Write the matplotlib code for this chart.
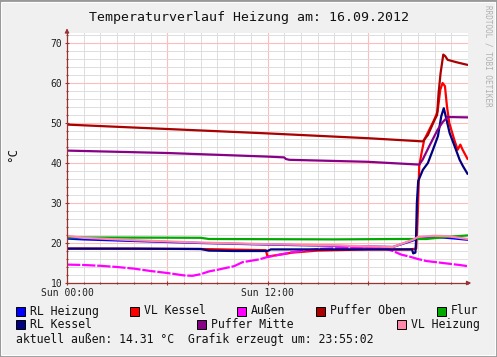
import matplotlib
matplotlib.use("Agg")
import matplotlib.pyplot as plt
from matplotlib.patches import Rectangle

# Stunden seit Sun 00:00
rl_heizung_h = [0, 1, 4, 8, 12, 16, 19.5, 20.7, 21.0, 22.0, 23, 24]
rl_heizung = [21.1, 20.9, 20.5, 20.0, 19.6, 19.3, 19.0, 20.6, 21.3, 21.5, 21.2, 20.8]

vl_kessel_h = [0, 8, 11.9, 12.0, 13.5, 15, 18, 20.5, 20.9, 21.0, 21.08, 21.22, 21.38, 21.98,
               22.18, 22.34, 22.48, 22.62, 22.74, 22.88, 23.18, 23.38, 23.54, 23.68, 24]
vl_kessel = [18.6, 18.5, 18.2, 16.6, 17.6, 18.1, 18.4, 18.4, 18.6, 28.0, 39.2, 42.5, 45.8, 50.8,
             52.9, 58.3, 60.0, 59.2, 54.2, 50.0, 45.8, 43.3, 44.6, 43.3, 40.8]

aussen_h = [0, 1, 2, 3, 4, 5, 6, 7, 7.5, 8, 8.5, 9, 10, 10.5, 11.5, 12, 13.5, 15, 16, 18, 19,
            19.5, 20, 20.5, 21, 21.5, 22.5, 23.5, 24]
aussen = [14.6, 14.5, 14.3, 14.0, 13.6, 13.0, 12.5, 11.9, 11.8, 12.2, 12.9, 13.3, 14.2, 15.2,
          15.9, 16.5, 17.7, 18.5, 18.7, 18.8, 18.7, 18.0, 17.1, 16.6, 16.0, 15.5, 15.0, 14.5, 14.2]

puffer_oben_h = [0, 6, 12, 18, 21.3, 21.6, 22.0, 22.15, 22.24, 22.36, 22.52, 22.64, 22.78, 23.3, 24]
puffer_oben = [49.6, 48.5, 47.4, 46.2, 45.4, 47.0, 50.8, 52.0, 57.5, 62.5, 67.1, 66.7, 65.8,
               65.2, 64.5]

flur_h = [0, 8, 8.5, 16, 20, 21.5, 22.2, 23, 24]
flur = [21.4, 21.3, 21.0, 20.9, 21.0, 21.0, 21.3, 21.6, 21.9]

rl_kessel_h = [0, 4, 8, 8.5, 10, 12, 12.2, 16, 20, 20.65, 20.72, 20.85, 20.88, 20.94, 21.02,
               21.3, 21.6, 21.9, 22.2, 22.4, 22.55, 22.65, 22.9, 23.2, 23.5, 23.7, 24]
rl_kessel = [18.6, 18.6, 18.5, 18.1, 18.0, 18.0, 18.4, 18.4, 18.4, 18.4, 17.4, 17.6, 19.6, 30.0,
             35.5, 38.3, 40.0, 43.3, 46.7, 51.7, 53.7, 52.0, 47.5, 44.2, 40.8, 39.2, 37.1]

puffer_mitte_h = [0, 6, 10, 12, 13, 13.1, 13.3, 18, 21.08, 21.28, 21.68, 22.18, 22.48, 22.78, 24]
puffer_mitte = [43.1, 42.5, 41.9, 41.6, 41.4, 41.0, 40.8, 40.3, 39.6, 40.8, 44.2, 48.3, 50.2,
                51.5, 51.4]

vl_heizung_h = [0, 1, 4, 8, 12, 16, 19.5, 20.7, 21.0, 22.0, 22.8, 24]
vl_heizung = [21.8, 21.3, 20.7, 20.1, 19.7, 19.4, 19.0, 20.8, 21.5, 21.8, 21.7, 21.0]

series = [
    ("RL Heizung", rl_heizung_h, rl_heizung, "#0000ff"),
    ("VL Kessel", vl_kessel_h, vl_kessel, "#ff0000"),
    ("Außen", aussen_h, aussen, "#ff00ff"),
    ("Puffer Oben", puffer_oben_h, puffer_oben, "#aa0000"),
    ("Flur", flur_h, flur, "#00aa00"),
    ("RL Kessel", rl_kessel_h, rl_kessel, "#000080"),
    ("Puffer Mitte", puffer_mitte_h, puffer_mitte, "#880088"),
    ("VL Heizung", vl_heizung_h, vl_heizung, "#ff88aa"),
]

W, H = 497, 357
MONO = "DejaVu Sans Mono"
AXCOL = "#993333"


def px(x, y):
    return x / W, 1 - y / H


fig = plt.figure(figsize=(W / 100, H / 100), dpi=100, facecolor="#f0f0f0")

# Rahmen (hell oben/links, dunkel unten/rechts)
fig.add_artist(Rectangle((0, 0), 1, 1, transform=fig.transFigure, fill=False,
                         edgecolor="#999999", lw=2))
fig.add_artist(Rectangle(px(1, 355), (W - 3) / W, 353 / H, transform=fig.transFigure,
                         fill=False, edgecolor="#ffffff", lw=0.7))

left, top, right, bottom = 67, 33, 468, 283
ax = fig.add_axes([left / W, 1 - bottom / H, (right - left) / W, (bottom - top) / H])
ax.set_facecolor("white")

for name, hx, vals, col in series:
    ls = (0, (6, 0.8)) if name == "Außen" else "-"
    ax.plot(hx, vals, color=col, lw=1.6, ls=ls, solid_capstyle="butt")

ax.set_xlim(0, 24)
ax.set_ylim(10, 72.5)
ax.set_xticks([0, 6, 12, 18])
ax.set_xticklabels(["Sun 00:00", "", "Sun 12:00", ""], family=MONO, fontsize=7)
ax.set_xticks(range(0, 25), minor=True)
ax.set_yticks(range(10, 71, 10))
ax.set_yticklabels([str(v) for v in range(10, 71, 10)], family=MONO, fontsize=7)
ax.set_yticks(range(10, 73, 2), minor=True)
ax.grid(which="minor", color="#dddddd", lw=0.7)
ax.grid(which="major", color="#ffbcbc", lw=0.8)
ax.set_axisbelow(True)
ax.tick_params(which="both", color=AXCOL, length=3, width=0.8, direction="inout", pad=2,
               labelcolor="#222222")
ax.tick_params(which="minor", length=2)
for s in ["top", "right"]:
    ax.spines[s].set_visible(False)
for s in ["left", "bottom"]:
    ax.spines[s].set_color(AXCOL)
    ax.spines[s].set_linewidth(0.9)

# Achsenpfeile
ax.annotate("", xy=(1.015, 0), xytext=(0.99, 0), xycoords="axes fraction",
            arrowprops=dict(arrowstyle="-|>", color=AXCOL, lw=0.9, mutation_scale=6),
            annotation_clip=False)
ax.annotate("", xy=(0, 1.03), xytext=(0, 0.99), xycoords="axes fraction",
            arrowprops=dict(arrowstyle="-|>", color=AXCOL, lw=0.9, mutation_scale=6),
            annotation_clip=False)

fig.text(*px(249, 17), "Temperaturverlauf Heizung am: 16.09.2012", family=MONO,
         fontsize=9.5, ha="center", va="center", color="#111111")
fig.text(*px(13, 155), "°C", family=MONO, fontsize=9, rotation=90, ha="center",
         va="center", color="#111111")
fig.text(*px(488, 5), "RRDTOOL / TOBI OETIKER", family=MONO, fontsize=5.5,
         rotation=270, ha="center", va="top", color="#b0b0b0")

# Legende
legend_pos = [
    (16, 311), (130, 311), (237, 311), (316, 311), (437, 311),
    (16, 324.5), (197, 324.5), (397, 324.5),
]
for (name, hx, vals, col), (bx, by) in zip(series, legend_pos):
    x0, y0 = px(bx, by + 4.5)
    fig.add_artist(Rectangle((x0, y0), 9 / W, 9 / H, transform=fig.transFigure,
                             facecolor=col, edgecolor="black", lw=0.7))
    fig.text(*px(bx + 14, by), name, family=MONO, fontsize=8.3, va="center",
             color="#111111")

fig.text(*px(16, 339.5), "aktuell außen: 14.31 °C  Grafik erzeugt um: 23:55:02",
         family=MONO, fontsize=8.3, va="center", color="#111111")

fig.savefig("out.png", dpi=100, facecolor=fig.get_facecolor())
